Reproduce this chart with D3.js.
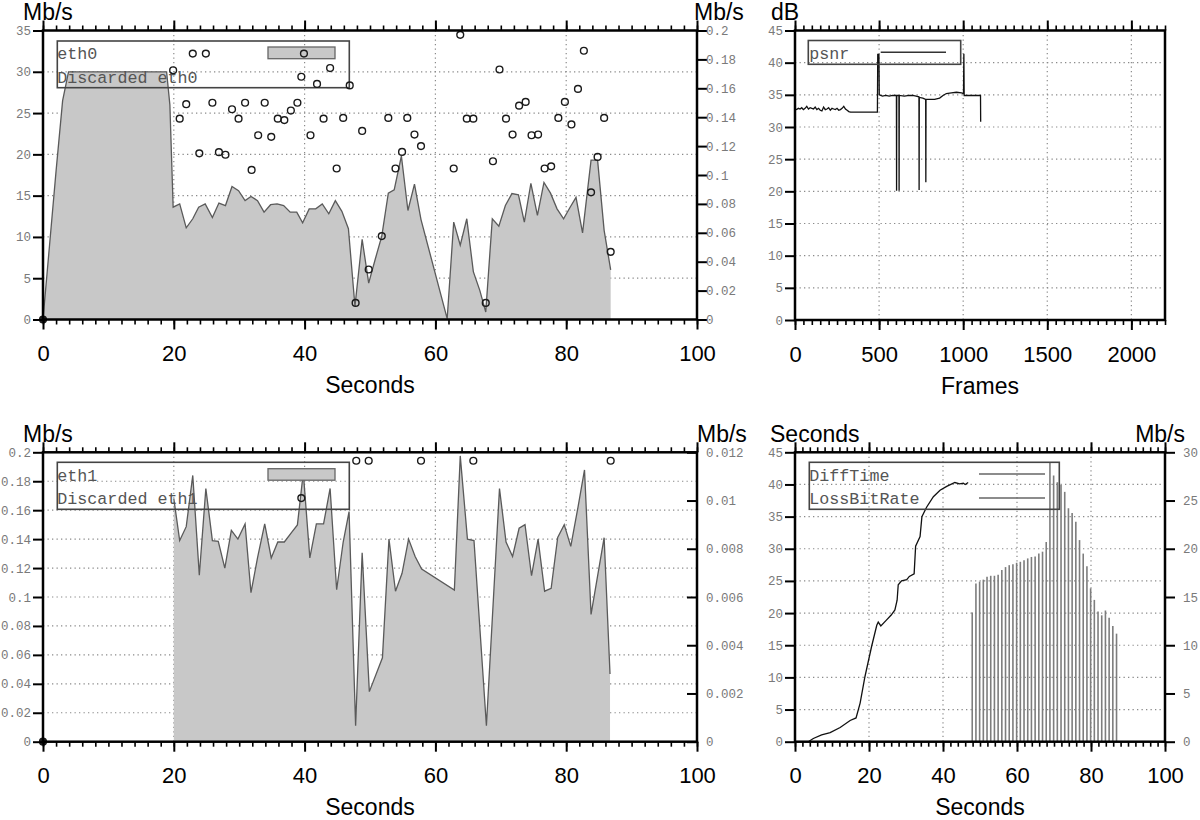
<!DOCTYPE html>
<html><head><meta charset="utf-8">
<script src="https://cdn.jsdelivr.net/npm/d3@7"></script>
<style>body{margin:0;background:#fff}svg{display:block}</style>
</head><body>
<svg id="c" width="1200" height="820"></svg>
<script>
// ---------------- DATA ----------------
const eth0Time = [0,1,2,3,3.9,18.9,19.4,19.9,20.9,21.9,22.9,23.8,24.8,25.9,26.9,27.9,28.9,29.9,30.9,31.8,32.8,33.8,34.8,35.8,36.8,37.8,38.8,39.7,40.7,41.7,42.7,43.7,44.7,45.7,46.7,47.7,48.8,49.8,50.8,51.8,52.8,53.7,54.8,55.8,56.8,57.8,61.8,62.8,63.8,64.8,65.8,66.8,67.7,68.7,69.7,70.7,71.7,72.7,73.6,74.6,75.6,76.6,77.6,78.6,79.6,80.6,81.5,82.5,83.8,84.8,85.8,86.8];
const eth0Rate = [0,9,18,26.5,30,30,26,13.6,14.0,11.1,12.2,13.6,14.0,12.35,14.1,13.8,16.1,15.6,14.4,14.9,14.4,13.0,13.9,14.0,13.8,13.0,13.0,11.7,13.4,13.4,14.0,12.8,14.4,13.1,11.0,1.6,9.7,4.4,7.3,10.1,15.3,15.7,19.8,13.2,16.4,12.1,0.1,11.8,9.0,12.2,5.8,3.5,0.9,12.2,11.3,13.8,15.25,15.1,11.8,16.5,12.6,16.6,15.3,13.4,12.2,13.6,14.8,10.5,19.3,19.3,10.8,6.0];

const discarded0Time = [0,19.9,20.9,21.9,22.9,23.9,24.9,25.9,26.9,27.9,28.9,29.9,30.9,31.9,32.9,33.9,34.9,35.9,36.9,37.9,38.9,39.5,39.9,40.9,41.9,42.9,43.9,44.9,45.9,46.9,47.8,48.8,49.8,51.8,52.8,53.9,54.9,55.7,56.8,57.8,62.8,63.8,64.8,65.8,67.7,68.8,69.8,70.8,71.8,72.8,73.8,74.7,75.7,76.7,77.7,78.8,79.8,80.8,81.8,82.7,83.8,84.8,85.8,86.8];
const discarded0Rate = [0,0.1725,0.139,0.149,0.184,0.115,0.184,0.150,0.1158,0.114,0.1455,0.139,0.150,0.1035,0.1275,0.150,0.1264,0.139,0.138,0.1446,0.150,0.168,0.184,0.1275,0.163,0.139,0.174,0.1045,0.1395,0.162,0.0115,0.1305,0.0346,0.0577,0.1395,0.1045,0.116,0.1395,0.128,0.12,0.1045,0.197,0.139,0.139,0.0115,0.1095,0.173,0.139,0.128,0.148,0.1506,0.1275,0.128,0.1045,0.106,0.1395,0.1506,0.135,0.1596,0.186,0.088,0.1125,0.1395,0.0468];

const eth1Time = [20,20,20.9,21.9,22.9,23.9,24.9,25.9,26.8,27.8,28.8,29.8,30.9,31.8,32.8,33.9,34.9,35.9,36.9,37.9,38.9,39.8,40.8,41.8,42.9,43.9,44.9,45.9,46.8,47.8,48.8,49.9,51.9,52.9,53.9,54.9,55.9,56.9,57.9,62.9,63.8,64.9,65.9,67.8,69.8,70.8,71.8,72.8,73.7,74.7,75.7,76.7,77.7,78.7,79.7,80.7,81.8,82.8,83.8,85.8,86.7];
const eth1Rate = [0,0.168,0.139,0.1486,0.184,0.115,0.175,0.139,0.1385,0.12,0.146,0.14,0.1505,0.103,0.127,0.1505,0.127,0.138,0.138,0.144,0.1498,0.186,0.127,0.1505,0.1505,0.175,0.105,0.138,0.159,0.011,0.1306,0.0346,0.058,0.14,0.104,0.1164,0.14,0.128,0.1194,0.1048,0.1975,0.14,0.139,0.011,0.175,0.138,0.128,0.1475,0.150,0.1147,0.14,0.104,0.106,0.1412,0.150,0.135,0.162,0.1878,0.088,0.141,0.0468];

const discarded1Time = [0,39.5,47.9,49.8,57.8,65.8,86.8];
const discarded1Rate = [0,0.0101,0.01165,0.01165,0.01165,0.01165,0.01165];

const psnrFrame = [0,10,20,30,40,50,60,70,80,90,100,110,120,130,140,150,160,170,180,190,200,210,220,230,240,250,260,270,280,290,300,310,320,330,490,492,499,501,520,540,560,580,603,604,605,618,619,620,650,680,700,720,737,738,739,760,777,778,779,800,830,860,880,900,930,960,990,1002,1004,1006,1050,1103,1104];
const psnrDb = [32.8,32.7,32.9,32.8,33.0,32.7,32.9,33.2,32.8,33.0,32.9,32.8,33.1,32.7,32.9,32.6,32.5,33.1,32.7,32.8,33.0,32.6,32.9,32.8,32.7,32.9,32.6,32.7,32.9,33.2,32.8,32.6,32.4,32.3,32.3,41.3,41.3,35.0,34.8,34.9,34.8,34.9,34.9,20.1,34.9,34.9,20.1,34.9,34.8,34.9,34.9,34.8,34.7,20.2,34.6,34.5,34.3,21.4,34.3,34.3,34.3,34.5,34.9,35.2,35.3,35.4,35.3,35.2,41.4,34.9,34.9,34.9,30.8];

const diffTimeSec = [0,3.6,4.95,7.2,9.5,12.2,14.9,16.5,17.6,18.9,20.7,22.1,22.5,23.2,24.7,26.0,27.0,27.6,27.9,28.8,30.2,30.9,32.2,32.6,33.8,34.3,35.6,37.4,39.2,41.0,43.2,44.5,45.5,46.0,46.8];
const diffTimeVal = [0,0,0.5,1.05,1.4,2.2,3.3,3.7,6.0,10.1,14.8,18.1,18.6,18.0,18.9,19.7,20.5,22.0,24.4,25.0,25.2,25.7,26.1,30.4,31.9,35.0,36.5,38.1,39.1,39.7,40.3,40.1,40.2,40.0,40.3];

const lossTime = [47.9,48.9,49.9,50.9,51.9,52.9,53.9,54.9,55.9,56.9,57.9,58.9,59.9,60.9,61.9,62.9,63.9,64.9,65.9,66.9,67.9,68.9,69.9,70.9,71.9,72.9,73.9,74.9,75.9,76.9,77.9,78.9,79.9,80.9,81.9,82.9,83.9,84.9,85.9,86.9];
const lossRate = [13.4,16.4,16.6,16.8,17.1,17.2,17.2,17.3,17.8,18.1,18.3,18.4,18.55,18.65,18.8,19.0,19.15,19.2,19.5,19.7,20.7,28.9,27.6,26.9,26.6,25.9,24.2,23.7,22.8,20.9,19.5,18.2,15.9,14.7,13.5,13.1,13.6,12.85,12.0,11.2];

const secondsTicks = [0,20,40,60,80,100];
const secondsMinor = d3.range(0,101,2);
const frameTicks = [0,500,1000,1500,2000];
const frameMinor = d3.range(0,2201,50);
const mbps35Ticks = [0,5,10,15,20,25,30,35];
const disc0Ticks = [0,0.02,0.04,0.06,0.08,0.1,0.12,0.14,0.16,0.18,0.2];
const disc0Labels = ["0","0.02","0.04","0.06","0.08","0.1","0.12","0.14","0.16","0.18","0.2"];
const dbTicks = [0,5,10,15,20,25,30,35,40,45];
const eth1Ticks = [0,0.02,0.04,0.06,0.08,0.1,0.12,0.14,0.16,0.18,0.2];
const eth1Labels = ["0","0.02","0.04","0.06","0.08","0.1","0.12","0.14","0.16","0.18","0.2"];
const disc1Ticks = [0,0.002,0.004,0.006,0.008,0.01,0.012];
const disc1Labels = ["0","0.002","0.004","0.006","0.008","0.01","0.012"];
const secTicks45 = [0,5,10,15,20,25,30,35,40,45];
const lossTicks = [0,5,10,15,20,25,30];

// ---------------- DRAWING ----------------
const svg = d3.select('#c');
const SANS = '"Liberation Sans", Arial, Helvetica, sans-serif';
const MONO = '"Liberation Mono", "DejaVu Sans Mono", monospace';
const FILL = '#c8c8c8';

function panel(o){
  const g = svg.append('g');
  const x = d3.scaleLinear().domain(o.xDomain).range([o.x0,o.x1]);
  const y = d3.scaleLinear().domain(o.yDomain).range([o.yBot,o.yTop]);
  const grid = g.append('g').attr('stroke','#8a8a8a').attr('stroke-width',1.2).attr('stroke-dasharray','1.3,3.2');
  grid.selectAll('.gx').data(o.xGrid).join('line')
    .attr('x1',d=>x(d)).attr('x2',d=>x(d)).attr('y1',o.yTop).attr('y2',o.yBot);
  grid.selectAll('.gy').data(o.yGrid).join('line')
    .attr('y1',d=>y(d)).attr('y2',d=>y(d)).attr('x1',o.x0).attr('x2',o.x1);
  return {g,x,y};
}

function axes(p,o){
  const {g,x,y} = p;
  const mk = (gen, tr) => {
    const a = g.append('g').attr('transform',tr).call(gen);
    a.select('.domain').remove();
    return a;
  };
  const bm = mk(d3.axisBottom(x).tickValues(o.xMinor).tickSize(5).tickFormat(''),`translate(0,${o.yBot})`);
  const tm = mk(d3.axisTop(x).tickValues(o.xMinor).tickSize(5).tickFormat(''),`translate(0,${o.yTop})`);
  [bm,tm].forEach(a=>a.selectAll('line').attr('stroke','#000').attr('stroke-width',1.6));
  const bM = mk(d3.axisBottom(x).tickValues(o.xTicks).tickSize(10).tickFormat(d3.format('d')),`translate(0,${o.yBot})`);
  const tM = mk(d3.axisTop(x).tickValues(o.xTicks).tickSize(10).tickFormat(''),`translate(0,${o.yTop})`);
  [bM,tM].forEach(a=>a.selectAll('line').attr('stroke','#000').attr('stroke-width',2));
  bM.selectAll('text').attr('y',26).attr('dy','0.71em').attr('fill','#000')
    .style('font-family',SANS).style('font-size','22px');
  const l = mk(d3.axisLeft(y).tickValues(o.yTicks).tickSize(10).tickPadding(2).tickFormat((d,i)=>o.yLabels[i]),`translate(${o.x0},0)`);
  l.selectAll('line').attr('stroke','#000').attr('stroke-width',2);
  l.selectAll('text').attr('fill','#7a7a7a').style('font-family',MONO).style('font-size','12.5px');
  g.append('rect').attr('x',o.x0).attr('y',o.yTop).attr('width',o.x1-o.x0).attr('height',o.yBot-o.yTop)
    .attr('fill','none').attr('stroke','#000').attr('stroke-width',2.5);
  g.append('text').attr('x',(o.x0+o.x1)/2).attr('y',o.yBot+73.5).attr('text-anchor','middle')
    .style('font-family',SANS).style('font-size','23px').text(o.xTitle);
  g.append('text').attr('x',o.leftTitleX).attr('y',o.yTop-10.5).style('font-family',SANS).style('font-size','23px').text(o.leftTitle);
}

function rightAxis(p,o,y2,ticks,labels,inward,textX,title,titleX,anchor){
  const a = p.g.append('g').attr('transform',`translate(${o.x1},0)`)
    .call(d3.axisRight(y2).tickValues(ticks).tickSize(inward?-10:10).tickFormat((d,i)=>labels[i]));
  a.select('.domain').remove();
  a.selectAll('line').attr('stroke','#000').attr('stroke-width',2);
  a.selectAll('text').attr('x',textX).attr('fill','#7a7a7a').style('font-family',MONO).style('font-size','12.5px');
  p.g.append('text').attr('x',titleX).attr('y',o.yTop-10.5).attr('text-anchor',anchor)
    .style('font-family',SANS).style('font-size','23px').text(title);
}

function legendBox(g,x0,y0,x1,y1){
  g.append('rect').attr('x',x0).attr('y',y0).attr('width',x1-x0).attr('height',y1-y0)
    .attr('fill','none').attr('stroke','#444').attr('stroke-width',1.6);
}
function legendText(g,x,y,t){
  g.append('text').attr('x',x).attr('y',y).attr('fill','#555')
    .style('font-family',MONO).style('font-size','16.7px').text(t);
}

// ===== Panel 1: eth0 =====
{
  const o = {x0:43,x1:697,yTop:30.5,yBot:319.5,xDomain:[0,100],yDomain:[0,35],
    xGrid:[20,40,60,80],yGrid:[5,10,15,20,25,30],xTicks:secondsTicks,xMinor:secondsMinor,
    yTicks:mbps35Ticks,yLabels:mbps35Ticks.map(String),xTitle:'Seconds',leftTitle:'Mb/s',leftTitleX:23};
  const p = panel(o);
  const y2 = d3.scaleLinear().domain([0,0.2]).range([o.yBot,o.yTop]);
  const pts = eth0Time.map((t,i)=>[t,eth0Rate[i]]);
  p.g.append('path').datum(pts).attr('fill',FILL)
    .attr('d',d3.area().x(d=>p.x(d[0])).y0(p.y(0)).y1(d=>p.y(d[1])));
  p.g.append('path').datum(pts).attr('fill','none').attr('stroke','#5a5a5a').attr('stroke-width',1.3)
    .attr('d',d3.line().x(d=>p.x(d[0])).y(d=>p.y(d[1])));
  const leg = p.g.append('g');
  legendBox(leg,57.3,41,349.3,87.7);
  leg.append('rect').attr('x',268).attr('y',47).attr('width',67).attr('height',11.7).attr('fill',FILL).attr('stroke','#666').attr('stroke-width',1.3);
  legendText(leg,57.3,59,'eth0');
  legendText(leg,57.3,82.5,'Discarded eth0');
  p.g.append('g').selectAll('circle').data(discarded0Time.map((t,i)=>[t,discarded0Rate[i]])).join('circle')
    .attr('cx',d=>p.x(d[0])).attr('cy',d=>y2(d[1])).attr('r',3.4)
    .attr('fill',d=>d[0]===0?'#222':'none').attr('stroke','#1a1a1a').attr('stroke-width',1.4);
  axes(p,o);
  rightAxis(p,o,y2,disc0Ticks,disc0Labels,false,9,'Mb/s',694,'start');
}

// ===== Panel 2: psnr =====
{
  const o = {x0:795,x1:1165,yTop:30.5,yBot:320,xDomain:[0,2200],yDomain:[0,45],
    xGrid:[500,1000,1500,2000],yGrid:[5,10,15,20,25,30,35,40],xTicks:frameTicks,xMinor:frameMinor,
    yTicks:dbTicks,yLabels:dbTicks.map(String),xTitle:'Frames',leftTitle:'dB',leftTitleX:771};
  const p = panel(o);
  const pts = psnrFrame.map((f,i)=>[f,psnrDb[i]]);
  p.g.append('path').datum(pts).attr('fill','none').attr('stroke','#111').attr('stroke-width',1.3)
    .attr('d',d3.line().x(d=>p.x(d[0])).y(d=>p.y(d[1])));
  const leg = p.g.append('g');
  legendBox(leg,808.3,40.5,960.7,64.3);
  legendText(leg,809.3,59,'psnr');
  leg.append('line').attr('x1',880.7).attr('x2',946).attr('y1',52.3).attr('y2',52.3).attr('stroke','#333').attr('stroke-width',1.5);
  axes(p,o);
}

// ===== Panel 3: eth1 =====
{
  const o = {x0:43,x1:697,yTop:452.3,yBot:741.7,xDomain:[0,100],yDomain:[0,0.2],
    xGrid:[20,40,60,80],yGrid:[0.02,0.04,0.06,0.08,0.1,0.12,0.14,0.16,0.18],xTicks:secondsTicks,xMinor:secondsMinor,
    yTicks:eth1Ticks,yLabels:eth1Labels,xTitle:'Seconds',leftTitle:'Mb/s',leftTitleX:23};
  const p = panel(o);
  const y2 = d3.scaleLinear().domain([0,0.012]).range([o.yBot,o.yTop]);
  const pts = eth1Time.map((t,i)=>[t,eth1Rate[i]]);
  p.g.append('path').datum(pts).attr('fill',FILL)
    .attr('d',d3.area().x(d=>p.x(d[0])).y0(p.y(0)).y1(d=>p.y(d[1])));
  p.g.append('path').datum(pts.slice(1)).attr('fill','none').attr('stroke','#5a5a5a').attr('stroke-width',1.3)
    .attr('d',d3.line().x(d=>p.x(d[0])).y(d=>p.y(d[1])));
  const leg = p.g.append('g');
  legendBox(leg,57.3,462.3,349.3,509.3);
  leg.append('rect').attr('x',268).attr('y',468.7).attr('width',67).attr('height',11.5).attr('fill',FILL).attr('stroke','#666').attr('stroke-width',1.3);
  legendText(leg,57.3,480.5,'eth1');
  legendText(leg,57.3,503.5,'Discarded eth1');
  p.g.append('g').selectAll('circle').data(discarded1Time.map((t,i)=>[t,discarded1Rate[i]])).join('circle')
    .attr('cx',d=>p.x(d[0])).attr('cy',d=>y2(d[1])).attr('r',3.4)
    .attr('fill',d=>d[0]===0?'#222':'none').attr('stroke','#1a1a1a').attr('stroke-width',1.4);
  axes(p,o);
  rightAxis(p,o,y2,disc1Ticks,disc1Labels,true,9,'Mb/s',697,'start');
}

// ===== Panel 4: DiffTime / LossBitRate =====
{
  const o = {x0:795,x1:1165,yTop:452.3,yBot:741.7,xDomain:[0,100],yDomain:[0,45],
    xGrid:[20,40,60,80],yGrid:[5,10,15,20,25,30,35,40],xTicks:secondsTicks,xMinor:secondsMinor,
    yTicks:secTicks45,yLabels:secTicks45.map(String),xTitle:'Seconds',leftTitle:'Seconds',leftTitleX:770};
  const p = panel(o);
  const y2 = d3.scaleLinear().domain([0,30]).range([o.yBot,o.yTop]);
  p.g.append('g').selectAll('line').data(lossTime.map((t,i)=>[t,lossRate[i]])).join('line')
    .attr('x1',d=>p.x(d[0])).attr('x2',d=>p.x(d[0])).attr('y1',y2(0)).attr('y2',d=>y2(d[1]))
    .attr('stroke','#7d7d7d').attr('stroke-width',1.6);
  p.g.append('path').datum(diffTimeSec.map((t,i)=>[t,diffTimeVal[i]])).attr('fill','none')
    .attr('stroke','#111').attr('stroke-width',1.3)
    .attr('d',d3.line().x(d=>p.x(d[0])).y(d=>p.y(d[1])));
  const leg = p.g.append('g');
  legendBox(leg,809.3,462.3,1059.3,509.3);
  legendText(leg,809.3,480.5,'DiffTime');
  legendText(leg,809.3,503.5,'LossBitRate');
  leg.append('line').attr('x1',979).attr('x2',1045).attr('y1',474).attr('y2',474).attr('stroke','#666').attr('stroke-width',1.5);
  leg.append('line').attr('x1',979).attr('x2',1045).attr('y1',498).attr('y2',498).attr('stroke','#666').attr('stroke-width',1.5);
  axes(p,o);
  rightAxis(p,o,y2,lossTicks,lossTicks.map(String),false,18,'Mb/s',1185,'end');
}
</script>
</body></html>
